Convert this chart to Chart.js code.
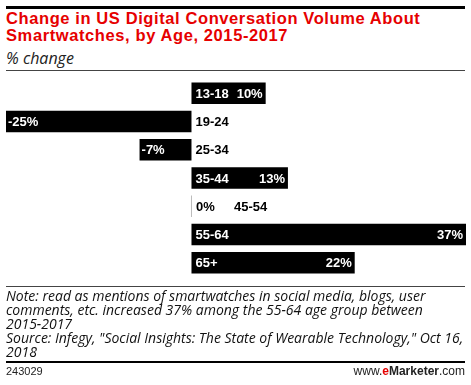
<!DOCTYPE html>
<html>
<head>
<meta charset="utf-8">
<script src="https://cdn.jsdelivr.net/npm/chart.js@4"></script>
<style>
  body { margin: 0; background: #fff; }
  #wrap { position: relative; width: 471px; height: 385px; overflow: hidden; font-family: "Open Sans", sans-serif; }
  #wrap canvas { position: absolute; left: 0; top: 0; }
  .rule { position: absolute; left: 6px; width: 459px; background: #000; }
  #title { position: absolute; left: 6px; top: 10px; font: bold 16.5px/17px "Liberation Sans", Arial, sans-serif; color: #e60000; letter-spacing: 0.6px; }
  #sub { position: absolute; left: 6px; top: 47px; font: italic 16px "Open Sans", sans-serif; color: #222; }
  #note { position: absolute; left: 6px; top: 289px; font: italic 14px/14px "Open Sans", sans-serif; color: #111; }
  #id { position: absolute; left: 6px; top: 365px; font: 11px "Liberation Sans", Arial, sans-serif; color: #222; }
  #brand { position: absolute; right: 6px; top: 364px; font: 12px "Liberation Sans", Arial, sans-serif; color: #222; }
</style>
</head>
<body>
<div id="wrap">
  <div class="rule" style="top:6px;height:3px"></div>
  <div id="title">Change in US Digital Conversation Volume About<br>Smartwatches, by Age, 2015-2017</div>
  <div id="sub">% change</div>
  <div class="rule" style="top:70px;height:1px;background:#444"></div>
  <canvas id="my-chart" width="471" height="385"></canvas>
  <div class="rule" style="top:286px;height:1px;background:#444"></div>
  <div id="note">Note: read as mentions of smartwatches in social media, blogs, user<br>comments, etc. increased 37% among the 55-64 age group between<br>2015-2017<br>Source: Infegy, "Social Insights: The State of Wearable Technology," Oct 16,<br>2018</div>
  <div class="rule" style="top:361px;height:2px"></div>
  <div id="id">243029</div>
  <div id="brand">www.<b style="color:#e60000">e</b><b>Marketer</b>.com</div>
</div>
<script>
const ageGroups = ['13-18', '19-24', '25-34', '35-44', '45-54', '55-64', '65+']
const changePct = [10, -25, -7, 13, 0, 37, 22]
const valueLabels = ['10%', '-25%', '-7%', '13%', '0%', '37%', '22%']

// labels drawn next to / inside the bars
const barLabels = {
  id: 'barLabels',
  afterDatasetsDraw(chart) {
    const ctx = chart.ctx
    const bars = chart.getDatasetMeta(0).data
    ctx.save()
    ctx.font = 'bold 13px "Liberation Sans", Arial, sans-serif'
    ctx.textBaseline = 'middle'
    bars.forEach((bar, i) => {
      const v = changePct[i]
      const y = bar.y + 1
      if (v > 0) {
        ctx.fillStyle = '#fff'
        ctx.textAlign = 'left'
        ctx.fillText(ageGroups[i], bar.base + 4, y)
        ctx.textAlign = 'right'
        ctx.fillText(valueLabels[i], bar.x - 3, y)
      } else if (v < 0) {
        ctx.fillStyle = '#fff'
        ctx.textAlign = 'left'
        ctx.fillText(valueLabels[i], bar.x + 2, y)
        ctx.fillStyle = '#000'
        ctx.fillText(ageGroups[i], bar.base + 4, y)
      } else {
        ctx.fillStyle = '#000'
        ctx.textAlign = 'left'
        ctx.fillText(valueLabels[i], bar.base + 4, y)
        ctx.fillText(ageGroups[i], bar.base + 42, y)
      }
    })
    ctx.restore()
  }
}

const ctx = document.getElementById('my-chart').getContext('2d')
const chart = new Chart(ctx, {
  type: 'bar',
  data: {
    labels: ageGroups,
    datasets: [{
      data: changePct,
      backgroundColor: changePct.map(v => v === 0 ? '#bbb' : '#000'),
      borderWidth: 0,
      minBarLength: 1,
      barPercentage: 0.76,
      categoryPercentage: 1
    }]
  },
  options: {
    indexAxis: 'y',
    responsive: false,
    animation: false,
    layout: { padding: { left: 6, right: 5, top: 79, bottom: 108 } },
    scales: {
      x: { display: false, min: -25, max: 37 },
      y: { display: false }
    },
    plugins: { legend: { display: false }, tooltip: { enabled: false } }
  },
  plugins: [barLabels]
})
</script>
</body>
</html>
